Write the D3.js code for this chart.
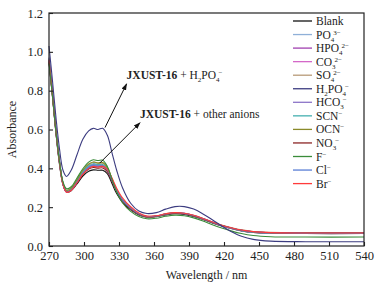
<!DOCTYPE html>
<html><head><meta charset="utf-8">
<script src="https://cdn.jsdelivr.net/npm/d3@7"></script>
<style>body{margin:0;background:#fff}svg{display:block}text{font-family:"Liberation Serif","Times New Roman",serif;fill:#222}</style>
</head><body>
<svg id="c" width="383" height="291"></svg>
<script>
const wavelengths = [270,273,276,279,282,285,289,294,299,304,308,312,316,320,324,328,333,340,347,354,362,370,378,386,394,402,410,418,426,435,445,460,490,540];
const blank = [0.95,0.77,0.58,0.42,0.315,0.278,0.285,0.32,0.36,0.385,0.392,0.39,0.39,0.372,0.322,0.27,0.225,0.186,0.16,0.148,0.151,0.16,0.166,0.163,0.152,0.137,0.119,0.103,0.09,0.078,0.07,0.066,0.064,0.064];
const po4 = [0.97,0.79,0.60,0.44,0.325,0.283,0.292,0.333,0.378,0.408,0.418,0.413,0.414,0.392,0.338,0.283,0.235,0.192,0.164,0.151,0.154,0.164,0.17,0.167,0.156,0.14,0.122,0.105,0.092,0.08,0.072,0.067,0.065,0.065];
const hpo4 = [0.96,0.78,0.59,0.43,0.318,0.277,0.287,0.327,0.372,0.402,0.412,0.408,0.41,0.389,0.336,0.282,0.234,0.191,0.163,0.15,0.153,0.163,0.169,0.166,0.155,0.139,0.121,0.104,0.091,0.079,0.071,0.067,0.065,0.065];
const co3 = [0.95,0.77,0.585,0.43,0.32,0.28,0.29,0.332,0.377,0.408,0.42,0.415,0.416,0.394,0.34,0.285,0.236,0.193,0.165,0.151,0.154,0.164,0.17,0.167,0.156,0.14,0.122,0.105,0.092,0.08,0.072,0.068,0.066,0.066];
const so4 = [0.96,0.78,0.59,0.435,0.325,0.285,0.295,0.338,0.385,0.418,0.43,0.425,0.426,0.402,0.345,0.288,0.238,0.195,0.167,0.153,0.156,0.166,0.172,0.169,0.158,0.142,0.124,0.108,0.095,0.083,0.075,0.07,0.068,0.068];
const h2po4 = [1.03,0.85,0.66,0.50,0.39,0.358,0.39,0.47,0.55,0.593,0.606,0.60,0.606,0.57,0.48,0.39,0.30,0.22,0.18,0.167,0.172,0.19,0.203,0.203,0.19,0.165,0.135,0.103,0.075,0.05,0.034,0.025,0.022,0.022];
const hco3 = [0.97,0.79,0.60,0.44,0.322,0.279,0.289,0.33,0.376,0.407,0.418,0.414,0.415,0.393,0.339,0.284,0.236,0.193,0.165,0.151,0.154,0.165,0.171,0.168,0.157,0.141,0.123,0.106,0.093,0.081,0.073,0.068,0.066,0.066];
const scn = [0.96,0.78,0.595,0.435,0.323,0.282,0.292,0.334,0.381,0.413,0.424,0.419,0.42,0.397,0.341,0.285,0.236,0.192,0.164,0.15,0.153,0.163,0.169,0.166,0.155,0.139,0.121,0.104,0.091,0.079,0.071,0.067,0.065,0.065];
const ocn = [0.95,0.775,0.59,0.435,0.326,0.287,0.298,0.342,0.39,0.422,0.433,0.428,0.43,0.405,0.347,0.289,0.238,0.193,0.164,0.15,0.153,0.164,0.17,0.167,0.156,0.14,0.122,0.106,0.093,0.081,0.073,0.068,0.066,0.066];
const no3 = [0.95,0.77,0.58,0.425,0.318,0.279,0.288,0.326,0.368,0.396,0.404,0.401,0.402,0.383,0.332,0.28,0.233,0.19,0.163,0.15,0.153,0.163,0.169,0.166,0.155,0.139,0.121,0.105,0.093,0.081,0.073,0.069,0.067,0.067];
const fl = [0.94,0.77,0.585,0.435,0.33,0.295,0.305,0.35,0.398,0.432,0.444,0.44,0.442,0.41,0.343,0.278,0.223,0.178,0.152,0.14,0.143,0.153,0.159,0.156,0.145,0.129,0.11,0.093,0.078,0.064,0.054,0.048,0.046,0.046];
const cl = [0.96,0.78,0.59,0.43,0.319,0.278,0.288,0.329,0.374,0.405,0.415,0.41,0.412,0.392,0.34,0.286,0.238,0.195,0.166,0.152,0.155,0.165,0.171,0.168,0.157,0.141,0.123,0.106,0.093,0.081,0.073,0.068,0.066,0.066];
const br = [0.96,0.78,0.59,0.43,0.317,0.277,0.286,0.326,0.37,0.4,0.41,0.407,0.41,0.395,0.35,0.298,0.248,0.202,0.17,0.154,0.156,0.166,0.172,0.169,0.158,0.142,0.124,0.107,0.094,0.082,0.074,0.069,0.067,0.067];
const xTicks = [270,300,330,360,390,420,450,480,510,540];
const yTicks = [0.0,0.2,0.4,0.6,0.8,1.0,1.2];

// legend label parts: [base, sub, sup]
const series = [
  {name:["Blank","",""], v:blank, c:"#111111"},
  {name:["PO","4","3−"], v:po4, c:"#8fb0d8"},
  {name:["HPO","4","2−"], v:hpo4, c:"#a040b0"},
  {name:["CO","3","2−"], v:co3, c:"#d468c8"},
  {name:["SO","4","2−"], v:so4, c:"#b89a78"},
  {name:["H","2","PO4−"], v:h2po4, c:"#3c3c80"},
  {name:["HCO","3","−"], v:hco3, c:"#8c74c8"},
  {name:["SCN","","−"], v:scn, c:"#45b0b0"},
  {name:["OCN","","−"], v:ocn, c:"#8a8a2a"},
  {name:["NO","3","−"], v:no3, c:"#8b2525"},
  {name:["F","","−"], v:fl, c:"#3a8c3a"},
  {name:["Cl","","−"], v:cl, c:"#5a7fd6"},
  {name:["Br","","−"], v:br, c:"#ff3b3b"}
];

const L=49,R=364,T=13,B=246;
const svg=d3.select("#c");
const x=d3.scaleLinear().domain([270,540]).range([L,R]);
const y=d3.scaleLinear().domain([0,1.2]).range([B,T]);

const line=d3.line().x((d,i)=>x(wavelengths[i])).y(d=>y(d)).curve(d3.curveCatmullRom.alpha(0.5));
const drawOrder=[0,1,2,3,4,6,7,8,9,11,12,10,5];
svg.append("g").selectAll("path").data(drawOrder.map(i=>series[i])).join("path")
  .attr("d",d=>line(d.v)).attr("fill","none").attr("stroke",d=>d.c).attr("stroke-width",1.1);

// axes (ticks inward)
const ax=svg.append("g").attr("transform",`translate(0,${B})`)
  .call(d3.axisBottom(x).tickValues(xTicks).tickSize(-4).tickPadding(5).tickFormat(d3.format("d")));
const ay=svg.append("g").attr("transform",`translate(${L},0)`)
  .call(d3.axisLeft(y).tickValues(yTicks).tickSize(-4).tickPadding(6).tickFormat(d3.format(".1f")));
[ax,ay].forEach(g=>{g.select(".domain").remove();g.selectAll("line").attr("stroke","#222").attr("stroke-width",1.1);
  g.selectAll("text").attr("font-size",12.5).attr("fill","#222").style("font-family","Liberation Serif");});
svg.append("rect").attr("x",L).attr("y",T).attr("width",R-L).attr("height",B-T)
  .attr("fill","none").attr("stroke","#222").attr("stroke-width",1.2);

svg.append("text").attr("x",(L+R)/2).attr("y",279).attr("text-anchor","middle").attr("font-size",12).text("Wavelength / nm");
svg.append("text").attr("transform",`translate(16,${(T+B)/2}) rotate(-90)`).attr("text-anchor","middle").attr("font-size",12).text("Absorbance");

// legend
const lg=svg.append("g");
series.forEach((s,i)=>{
  const yy=21+i*13.55;
  lg.append("line").attr("x1",293).attr("x2",312).attr("y1",yy).attr("y2",yy).attr("stroke",s.c).attr("stroke-width",1.3);
  const t=lg.append("text").attr("x",316).attr("y",yy+4).attr("font-size",11.5);
  const [b,sub,sup]=s.name;
  if(b==="H"){ // H2PO4-
    t.append("tspan").text("H");
    t.append("tspan").attr("font-size",7).attr("dy",3).text("2");
    t.append("tspan").attr("dy",-3).text("PO");
    t.append("tspan").attr("font-size",7).attr("dy",3).text("4");
    t.append("tspan").attr("font-size",7).attr("dy",-7).attr("dx",-1).text("−");
    return;
  }
  t.append("tspan").text(b);
  if(sub){t.append("tspan").attr("font-size",7).attr("dy",3).text(sub);
    if(sup) t.append("tspan").attr("font-size",7).attr("dy",-7).attr("dx",-1).text(sup);}
  else if(sup){t.append("tspan").attr("font-size",7).attr("dy",-4).text(sup);}
});

// annotations
const defs=svg.append("defs");
defs.append("marker").attr("id","ah").attr("viewBox","0 0 10 10").attr("refX",9).attr("refY",5)
  .attr("markerWidth",7).attr("markerHeight",7).attr("orient","auto")
  .append("path").attr("d","M0,1.5L10,5L0,8.5z").attr("fill","#111");
const ann=[
  {from:[318,0.61],to:[336.5,0.835]},
  {from:[313.5,0.427],to:[348,0.635]}
];
ann.forEach(a=>svg.append("line").attr("x1",x(a.from[0])).attr("y1",y(a.from[1]))
  .attr("x2",x(a.to[0])).attr("y2",y(a.to[1])).attr("stroke","#111").attr("stroke-width",1).attr("marker-end","url(#ah)"));
const t1=svg.append("text").attr("x",x(336.5)).attr("y",y(0.86)).attr("font-size",11.5);
t1.append("tspan").attr("font-weight","bold").text("JXUST-16");
t1.append("tspan").text(" + H");
t1.append("tspan").attr("font-size",7).attr("dy",3).text("2");
t1.append("tspan").attr("dy",-3).text("PO");
t1.append("tspan").attr("font-size",7).attr("dy",3).text("4");
t1.append("tspan").attr("font-size",7).attr("dy",-7).attr("dx",-1).text("−");
const t2=svg.append("text").attr("x",x(348)).attr("y",y(0.658)).attr("font-size",11.5);
t2.append("tspan").attr("font-weight","bold").text("JXUST-16");
t2.append("tspan").text(" + other anions");
</script>
</body></html>
